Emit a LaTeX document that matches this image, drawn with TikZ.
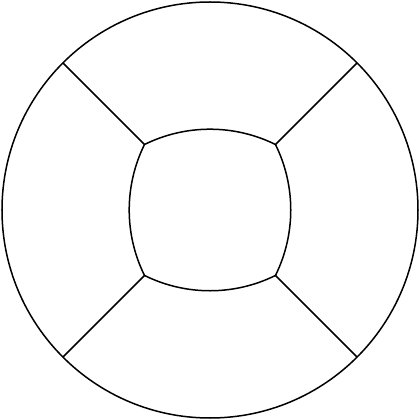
\documentclass[tikz,border=0pt]{standalone}
\begin{document}
\begin{tikzpicture}[x=1pt,y=1pt,line width=1.5pt,
  ring/.style={draw=black,line join=round}]
\useasboundingbox (-210,-210) rectangle (210,210);
\def\R{208}
\def\c{65.5}
\draw[ring] (0,0) circle (\R);
\coordinate (tl) at (-\c,\c);
\coordinate (tr) at (\c,\c);
\coordinate (br) at (\c,-\c);
\coordinate (bl) at (-\c,-\c);
\coordinate (otl) at (135:\R);
\coordinate (otr) at (45:\R);
\coordinate (obr) at (-45:\R);
\coordinate (obl) at (-135:\R);
\draw[ring] (tl) arc[start angle=116.3,end angle=63.7,radius=147.8]
  arc[start angle=26.3,end angle=-26.3,radius=147.8]
  arc[start angle=-63.7,end angle=-116.3,radius=147.8]
  arc[start angle=-153.7,end angle=-206.3,radius=147.8] -- cycle;
\draw[ring] (tl) -- (otl);
\draw[ring] (tr) -- (otr);
\draw[ring] (br) -- (obr);
\draw[ring] (bl) -- (obl);
\end{tikzpicture}
\end{document}
